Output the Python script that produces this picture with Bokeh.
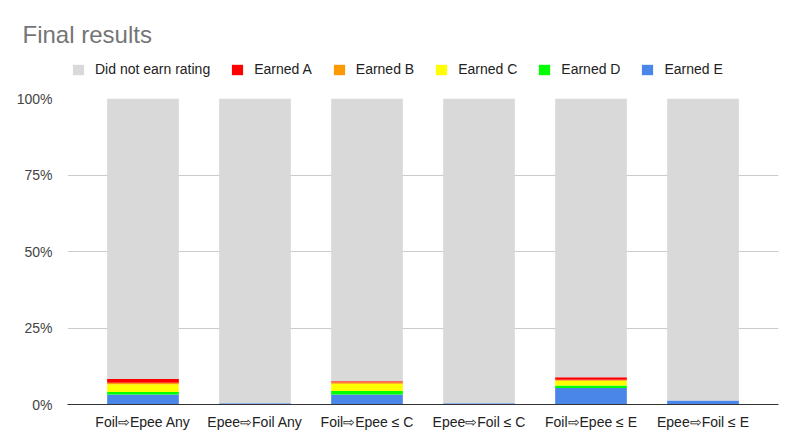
from bokeh.plotting import figure
from bokeh.models import (FactorRange, FixedTicker, PrintfTickFormatter, Legend,
                          Range1d, Label)
from bokeh.layouts import column
from bokeh.embed import file_html
from bokeh.resources import INLINE

# categories and stacked values (percent of fencers)
groups = ["Foil⇨Epee Any", "Epee⇨Foil Any", "Foil⇨Epee ≤ C",
          "Epee⇨Foil ≤ C", "Foil⇨Epee ≤ E", "Epee⇨Foil ≤ E"]
earned_e = [3.3, 0.4, 3.3, 0.4, 5.4, 1.3]
earned_d = [0.8, 0.0, 1.1, 0.0, 0.8, 0.0]
earned_c = [2.5, 0.0, 2.4, 0.0, 1.6, 0.0]
earned_b = [0.5, 0.0, 0.5, 0.0, 0.3, 0.0]
earned_a = [1.2, 0.0, 0.3, 0.0, 0.8, 0.0]
no_rating = [91.7, 99.6, 92.4, 99.6, 91.1, 98.7]
y_ticks = [0, 25, 50, 75, 100]

data = dict(groups=groups, e=earned_e, d=earned_d, c=earned_c,
            b=earned_b, a=earned_a, none=no_rating)

stack = ["e", "d", "c", "b", "a", "none"]
colors = ["#4a86e8", "#00ff00", "#ffff00", "#ff9900", "#ff0000", "#d9d9d9"]
names = ["Earned E", "Earned D", "Earned C", "Earned B", "Earned A",
         "Did not earn rating"]

# header strip: title and legend (a side-panel legend misbehaves here)
head = figure(width=784, height=80, x_range=Range1d(0, 784), y_range=Range1d(0, 80),
              output_backend="svg", toolbar_location=None, min_border=0)
head.frame_align = False
head.axis.visible = False
head.grid.grid_line_color = None
head.outline_line_color = None

head.add_layout(Label(x=22, y=46, text="Final results", text_font="Liberation Sans",
                      text_font_size="24px", text_color="#757575",
                      text_baseline="middle"))

# zero-size proxies, only there to give the legend its swatches
swatches = [head.vbar(x=[0], top=[0], width=0, color=c, line_color=None)
            for c in colors]
items = [(names[i], [swatches[i]]) for i in range(5, -1, -1)]
legend = Legend(items=items, orientation="horizontal", location=(71, 3))
legend.label_text_font = "Liberation Sans"
legend.label_text_font_size = "14px"
legend.label_text_color = "#222222"
legend.label_height = 16
legend.glyph_width = 14
legend.glyph_height = 13
legend.label_standoff = 10
legend.spacing = 20
legend.padding = 0
legend.margin = 0
legend.border_line_color = None
legend.background_fill_alpha = 0
head.add_layout(legend, "center")

# main chart
x_range = FactorRange(*groups, range_padding=0.174, range_padding_units="absolute")

p = figure(x_range=x_range, y_range=(0, 100), width=784, height=352,
           output_backend="svg", toolbar_location=None,
           min_border_left=67, min_border_right=6, min_border_top=18,
           min_border_bottom=28)
p.frame_align = False

p.vbar_stack(stack, x="groups", width=0.64, color=colors,
             line_color=None, source=data)

p.yaxis.ticker = FixedTicker(ticks=y_ticks)
p.yaxis.formatter = PrintfTickFormatter(format="%d%%")
p.yaxis.axis_line_color = None
p.yaxis.major_tick_line_color = None
p.yaxis.minor_tick_line_color = None
p.yaxis.major_label_text_font = "Liberation Sans"
p.yaxis.major_label_text_font_size = "14px"
p.yaxis.major_label_text_color = "#444444"
p.yaxis.major_label_standoff = 9

p.xaxis.axis_line_color = "#333333"
p.xaxis.axis_line_width = 1
p.xaxis.major_tick_line_color = None
p.xaxis.minor_tick_line_color = None
p.xaxis.major_label_text_font = "Liberation Sans"
p.xaxis.major_label_text_font_size = "14px"
p.xaxis.major_label_text_color = "#222222"
p.xaxis.major_label_standoff = 3

p.xgrid.grid_line_color = None
p.ygrid.ticker = FixedTicker(ticks=y_ticks)
p.ygrid.grid_line_color = "#cccccc"
p.outline_line_color = None

layout = column(head, p, spacing=0)

open("out.html", "w").write(file_html(layout, INLINE))
